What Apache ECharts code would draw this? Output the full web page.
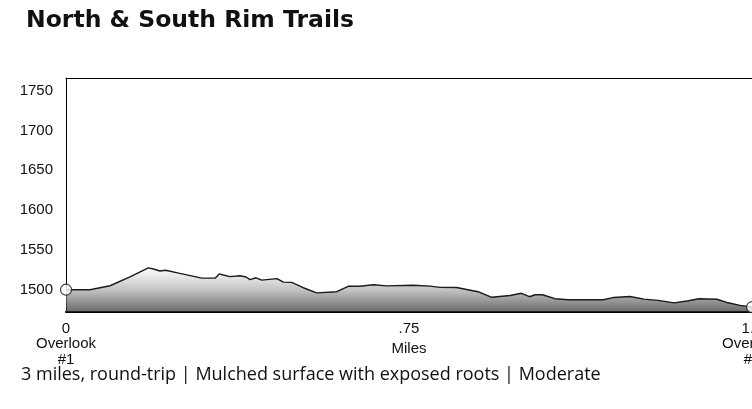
<!DOCTYPE html>
<html>
<head>
<meta charset="utf-8">
<script src="https://cdn.jsdelivr.net/npm/echarts@6/dist/echarts.min.js"></script>
<style>
html,body{margin:0;padding:0;background:#fff;}
#chart{width:752px;height:409px;}
</style>
</head>
<body>
<div id="chart"></div>
<script>
const chartTitle = 'North & South Rim Trails';
const footerText = '3 miles, round-trip | Mulched surface with exposed roots | Moderate';
const xAxisName = 'Miles';
const xTickValues = [0, 0.75, 1.5];
const xTickLabels = ['0\nOverlook\n#1', '.75', '1.5\nOverlook\n#2'];
const yTickValues = [1500, 1550, 1600, 1650, 1700, 1750];

const miles = [0, 0.0525, 0.0962, 0.140, 0.180, 0.191, 0.2055, 0.2176, 0.249, 0.297, 0.326, 0.3356, 0.344, 0.3586, 0.3805, 0.3936, 0.4023, 0.4155, 0.428, 0.4614, 0.4752, 0.4935, 0.5189, 0.548, 0.592, 0.617, 0.643, 0.672, 0.701, 0.759, 0.796, 0.818, 0.854, 0.901, 0.931, 0.971, 0.996, 1.0135, 1.0255, 1.042, 1.069, 1.098, 1.175, 1.198, 1.233, 1.264, 1.2945, 1.330, 1.361, 1.384, 1.423, 1.445, 1.474, 1.492, 1.5];
const elevation = [1500, 1500, 1505, 1516, 1527.5, 1526, 1523.5, 1524.5, 1520.5, 1514.5, 1514.5, 1520, 1518.5, 1516.5, 1517.5, 1516, 1512.6, 1515, 1512, 1514, 1509.5, 1509.2, 1502.5, 1496, 1497.5, 1504.3, 1504.3, 1506.3, 1504.8, 1505.6, 1504.5, 1503, 1502.8, 1497.5, 1490.5, 1492.8, 1495.5, 1491.2, 1493.7, 1493.7, 1488.7, 1487.4, 1487.4, 1490.3, 1491.4, 1488.2, 1486.6, 1483.5, 1486.2, 1488.7, 1488, 1484, 1480.3, 1479, 1478];

const profile = miles.map((m, i) => [m, elevation[i]]);
const endpoints = [profile[0], profile[profile.length - 1]];

const axisFont = 'Liberation Sans';
const chart = echarts.init(document.getElementById('chart'));
chart.setOption({
  animation: false,
  title: [
    {
      text: chartTitle, left: 21, top: 4,
      textStyle: { fontFamily: 'DejaVu Sans', fontWeight: 'bold', fontSize: 23.5, color: '#111' }
    },
    {
      text: footerText, left: 16, top: 361,
      textStyle: { fontFamily: 'Open Sans', fontWeight: 'normal', fontSize: 18, color: '#111' }
    }
  ],
  grid: { left: 66, right: 0, top: 78, height: 234, show: false, outerBoundsMode: 'none' },
  xAxis: [
    {
      type: 'value', min: 0, max: 1.5, interval: 0.75,
      name: xAxisName, nameLocation: 'middle', nameGap: 29, nameMoveOverlap: false,
      nameTextStyle: { fontFamily: axisFont, fontSize: 15, color: '#111' },
      axisLine: { show: true, lineStyle: { color: '#000', width: 2 } },
      axisTick: { show: false },
      splitLine: { show: false },
      axisLabel: {
        margin: 9, lineHeight: 15.5, hideOverlap: false,
        fontFamily: axisFont, fontSize: 15, color: '#111',
        formatter: v => { const i = xTickValues.findIndex(t => Math.abs(t - v) < 1e-6); return i >= 0 ? xTickLabels[i] : ''; }
      }
    },
    {
      type: 'value', position: 'top', min: 0, max: 1.5,
      axisLine: { show: true, onZero: false, lineStyle: { color: '#000', width: 1 } },
      axisTick: { show: false }, axisLabel: { show: false }, splitLine: { show: false }
    }
  ],
  yAxis: {
    type: 'value', min: 1472, max: 1766, interval: 2,
    axisLine: { show: true, lineStyle: { color: '#000', width: 1 } },
    axisTick: { show: false },
    splitLine: { show: false },
    axisLabel: {
      margin: 13, hideOverlap: false,
      fontFamily: axisFont, fontSize: 15, color: '#111',
      formatter: v => yTickValues.includes(v) ? String(v) : ''
    }
  },
  series: [
    {
      type: 'line', data: profile, showSymbol: false, symbol: 'none',
      lineStyle: { color: '#1a1a1a', width: 1.4 },
      areaStyle: {
        origin: 'start',
        color: new echarts.graphic.LinearGradient(0, 0, 0, 1, [
          { offset: 0, color: '#ffffff' },
          { offset: 0.5, color: '#a8a8a8' },
          { offset: 1, color: '#2a2a2a' }
        ])
      },
      z: 2
    },
    {
      type: 'scatter', data: endpoints, symbol: 'circle', symbolSize: 11,
      itemStyle: { color: '#fff', borderColor: '#111', borderWidth: 1.2 },
      clip: false, z: 5
    }
  ]
});
</script>
</body>
</html>
